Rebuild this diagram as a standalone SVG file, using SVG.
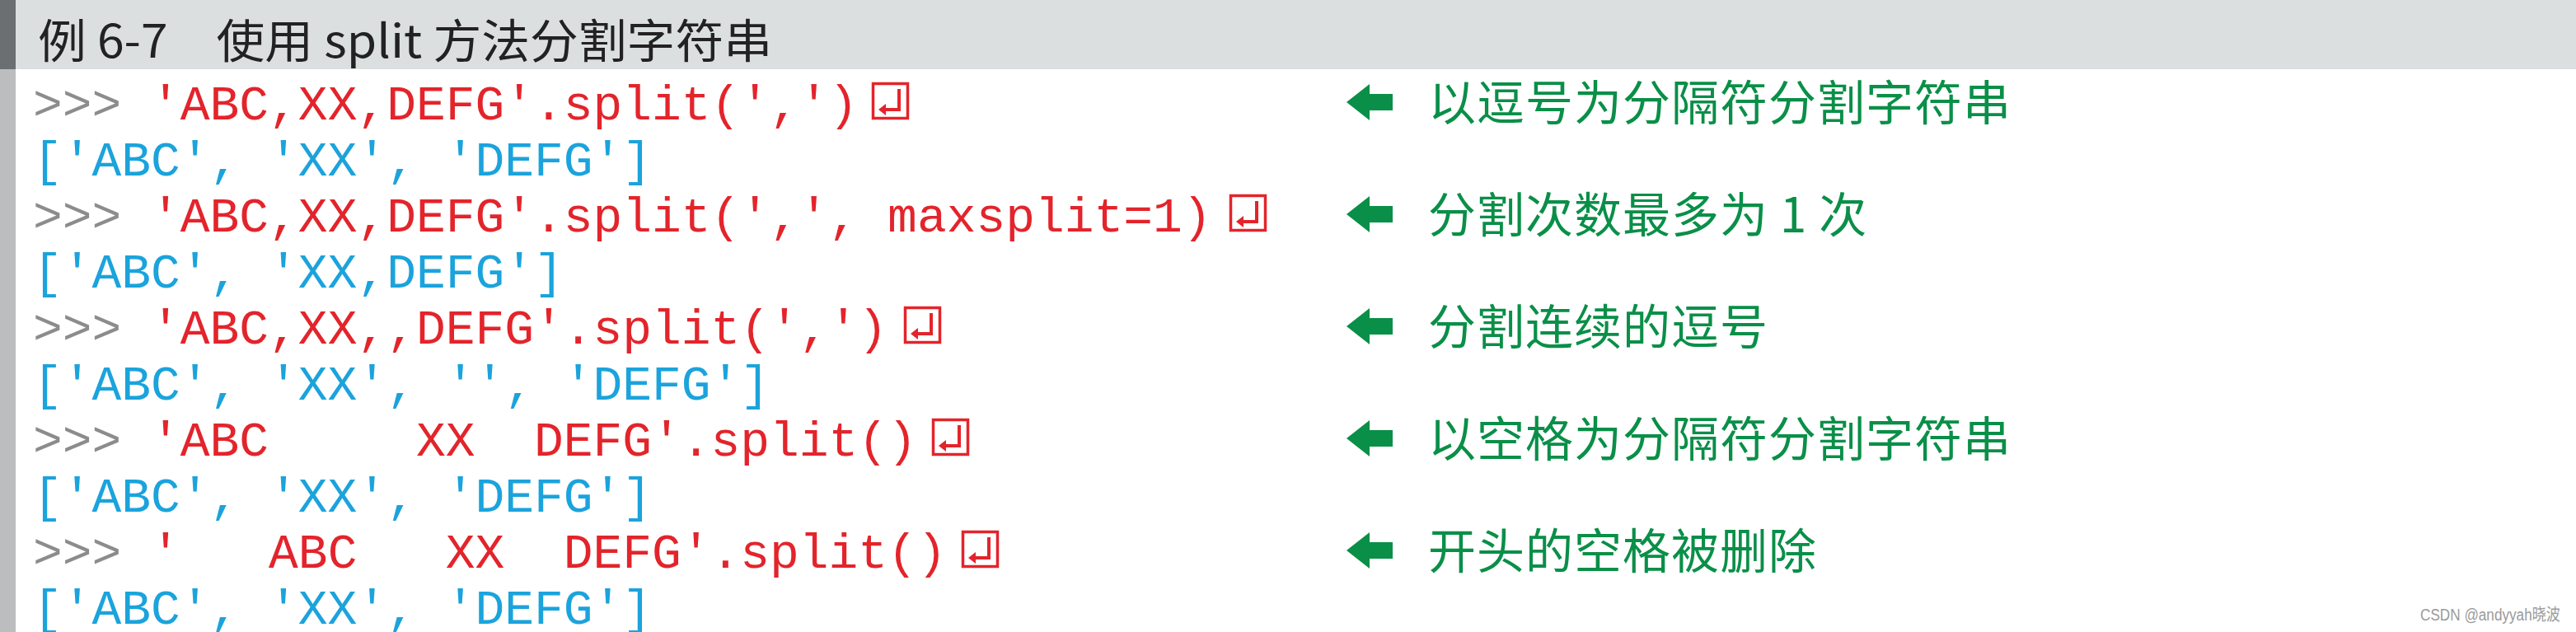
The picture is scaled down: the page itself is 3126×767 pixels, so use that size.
<svg xmlns="http://www.w3.org/2000/svg" width="3126" height="767" viewBox="0 0 3126 767">
<style>
.code{font-family:"Liberation Mono","Courier New",monospace;font-size:59.6px;white-space:pre}
.p{fill:#8c8c8c}.r{fill:#e3242b}.b{fill:#1ba3dc}
.cm{font-family:"Noto Sans CJK SC",sans-serif;font-size:58px;fill:#0a8f48;letter-spacing:1px}
.rb{fill:none;stroke:#e3242b;stroke-width:3.5}
.ar{fill:#0a8f48}
</style>
<defs>
<g id="ret"><rect class="rb" x="1.5" y="1.5" width="42" height="42"/><path d="M33 8 V33 H16" fill="none" stroke="#e3242b" stroke-width="4"/><path d="M8 33 L17 26 L17 40 Z" fill="#e3242b"/></g>
<path id="arr" d="M0 0 L28 -22 L28 -10 L56 -10 L56 10 L28 10 L28 22 Z"/>
</defs>
<rect x="0" y="0" width="3126" height="767" fill="#fff"/>
<rect x="0" y="0" width="3126" height="84" fill="#dcdfe0"/>
<rect x="0" y="0" width="19" height="84" fill="#6c6f71"/>
<rect x="0" y="84" width="19" height="683" fill="#bcbdbf"/>
<text x="46" y="70" font-family="Noto Sans CJK SC,sans-serif" font-size="56" fill="#222" textLength="891" lengthAdjust="spacingAndGlyphs">例 6-7　使用 split 方法分割字符串</text>
<g id="code">
<text class="code" x="40" y="145"><tspan class="p">&gt;&gt;&gt; </tspan><tspan class="r">'ABC,XX,DEFG'.split(',')</tspan></text>
<text class="code b" x="40" y="213">['ABC', 'XX', 'DEFG']</text>
<text class="code" x="40" y="281"><tspan class="p">&gt;&gt;&gt; </tspan><tspan class="r">'ABC,XX,DEFG'.split(',', maxsplit=1)</tspan></text>
<text class="code b" x="40" y="349">['ABC', 'XX,DEFG']</text>
<text class="code" x="40" y="417"><tspan class="p">&gt;&gt;&gt; </tspan><tspan class="r">'ABC,XX,,DEFG'.split(',')</tspan></text>
<text class="code b" x="40" y="485">['ABC', 'XX', '', 'DEFG']</text>
<text class="code" x="40" y="553"><tspan class="p">&gt;&gt;&gt; </tspan><tspan class="r">'ABC     XX  DEFG'.split()</tspan></text>
<text class="code b" x="40" y="621">['ABC', 'XX', 'DEFG']</text>
<text class="code" x="40" y="689"><tspan class="p">&gt;&gt;&gt; </tspan><tspan class="r">'   ABC   XX  DEFG'.split()</tspan></text>
<text class="code b" x="40" y="757">['ABC', 'XX', 'DEFG']</text>
</g>
<g id="returns">
<use href="#ret" x="1058" y="100"/>
<use href="#ret" x="1492" y="236"/>
<use href="#ret" x="1097" y="372"/>
<use href="#ret" x="1131" y="508"/>
<use href="#ret" x="1167" y="644"/>
</g>
<g id="comments">
<use href="#arr" class="ar" x="1634" y="124"/>
<text class="cm" x="1733" y="146">以逗号为分隔符分割字符串</text>
<use href="#arr" class="ar" x="1634" y="260"/>
<text class="cm" x="1733" y="282">分割次数最多为 1 次</text>
<use href="#arr" class="ar" x="1634" y="396"/>
<text class="cm" x="1733" y="418">分割连续的逗号</text>
<use href="#arr" class="ar" x="1634" y="532"/>
<text class="cm" x="1733" y="554">以空格为分隔符分割字符串</text>
<use href="#arr" class="ar" x="1634" y="668"/>
<text class="cm" x="1733" y="690">开头的空格被删除</text>
</g>
<text x="2937" y="753" font-family="Liberation Sans,Noto Sans CJK SC,sans-serif" font-size="20" fill="#9a9a9a" textLength="170" lengthAdjust="spacingAndGlyphs">CSDN @andyyah晓波</text>
</svg>
